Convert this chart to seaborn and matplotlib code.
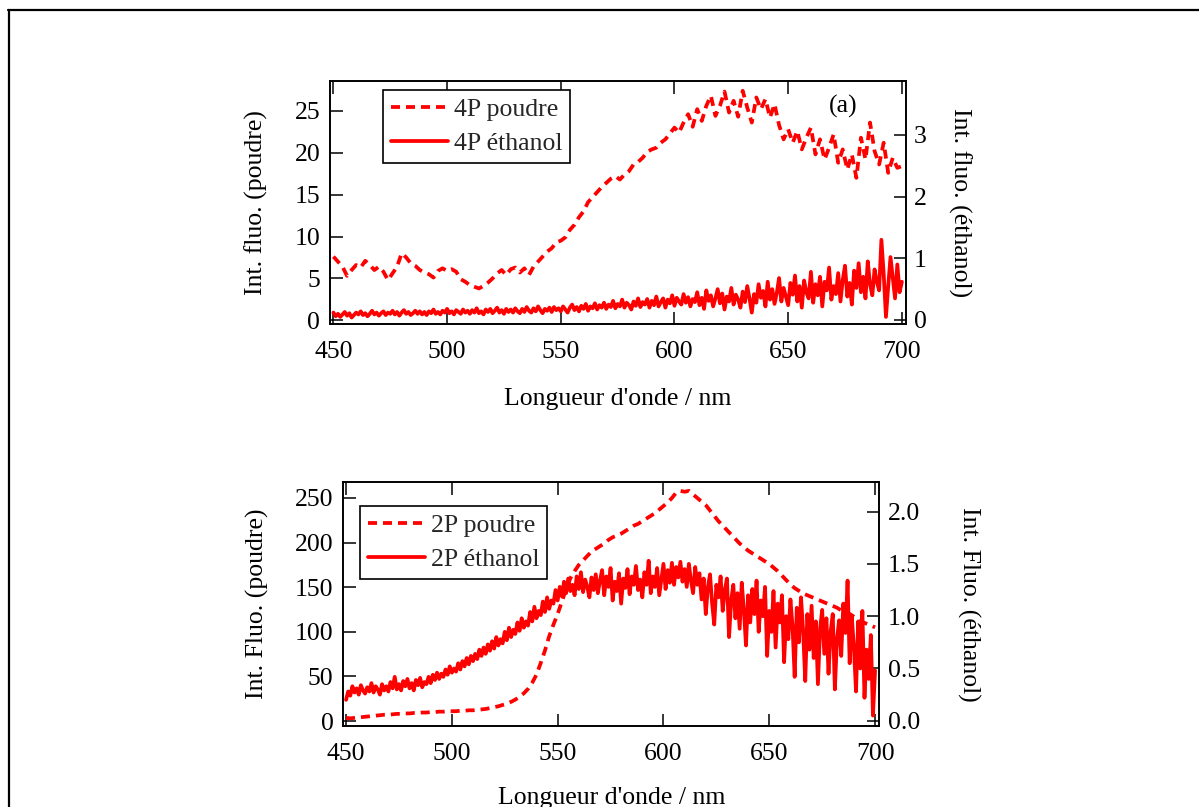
import numpy as np
import matplotlib
matplotlib.use("Agg")
import matplotlib.pyplot as plt
from matplotlib.lines import Line2D
import seaborn as sns

# Wavelength grids (nm)
wl_coarse = np.arange(450, 701, 2)   # 2 nm sampling
wl_fine = np.arange(450, 701, 1)     # 1 nm sampling

# (a) four-photon emission, powder (left axis)
p4_poudre = [
    7.6, 7.0, 6.4, 5.3, 6.0, 6.6, 6.3, 7.1, 6.6, 6.0,
    6.4, 5.8, 4.8, 5.6, 6.4, 8.0, 7.5, 6.8, 6.5, 6.0,
    5.7, 5.5, 5.1, 5.9, 6.2, 5.9, 6.1, 5.8, 4.9, 4.6,
    4.2, 4.0, 3.8, 4.1, 4.5, 5.0, 5.6, 6.0, 5.4, 6.1,
    6.3, 5.7, 6.2, 5.4, 6.4, 7.0, 7.6, 8.2, 8.6, 9.3,
    9.5, 9.9, 10.8, 11.4, 12.3, 13.0, 14.1, 14.7, 15.3, 15.9,
    16.4, 16.9, 17.2, 16.8, 17.4, 17.8, 18.6, 18.9, 19.4, 20.1,
    20.4, 20.6, 21.2, 21.6, 22.3, 23.0, 22.4, 23.6, 24.6, 23.1,
    25.2, 23.8, 25.6, 26.8, 24.4, 25.6, 27.3, 24.8, 26.2, 24.3,
    27.4, 25.4, 23.6, 26.6, 25.2, 26.4, 24.2, 25.8, 23.3, 21.6,
    22.8, 21.2, 22.6, 20.4, 21.8, 23.0, 19.8, 21.6, 19.2, 20.6,
    22.2, 18.8, 20.4, 18.0, 19.8, 17.0, 21.8, 19.2, 23.6, 20.2,
    18.6, 21.2, 17.6, 19.4, 18.2, 18.4,
]

# (a) four-photon emission, ethanol solution (right axis)
p4_ethanol = [
    0.12, 0.06, 0.10, 0.05, 0.09, 0.13, 0.07, 0.11, 0.04, 0.08,
    0.12, 0.09, 0.14, 0.08, 0.11, 0.06, 0.10, 0.15, 0.09, 0.12,
    0.07, 0.11, 0.14, 0.08, 0.12, 0.10, 0.15, 0.09, 0.13, 0.07,
    0.12, 0.16, 0.10, 0.13, 0.08, 0.11, 0.15, 0.10, 0.14, 0.09,
    0.13, 0.08, 0.14, 0.11, 0.17, 0.10, 0.13, 0.09, 0.15, 0.12,
    0.18, 0.11, 0.14, 0.09, 0.16, 0.13, 0.10, 0.17, 0.12, 0.15,
    0.10, 0.16, 0.12, 0.19, 0.11, 0.14, 0.09, 0.17, 0.13, 0.18,
    0.11, 0.15, 0.20, 0.12, 0.16, 0.10, 0.18, 0.13, 0.17, 0.12,
    0.19, 0.14, 0.11, 0.18, 0.13, 0.21, 0.15, 0.12, 0.19, 0.14,
    0.22, 0.16, 0.11, 0.18, 0.15, 0.20, 0.13, 0.21, 0.16, 0.19,
    0.14, 0.22, 0.17, 0.12, 0.20, 0.25, 0.16, 0.21, 0.14, 0.23,
    0.18, 0.26, 0.15, 0.22, 0.19, 0.27, 0.17, 0.24, 0.20, 0.28,
    0.18, 0.25, 0.21, 0.31, 0.19, 0.26, 0.22, 0.33, 0.20, 0.28,
    0.24, 0.17, 0.30, 0.23, 0.35, 0.21, 0.29, 0.25, 0.34, 0.20,
    0.31, 0.24, 0.38, 0.22, 0.29, 0.35, 0.20, 0.33, 0.27, 0.40,
    0.23, 0.36, 0.30, 0.25, 0.42, 0.28, 0.37, 0.22, 0.34, 0.29,
    0.45, 0.24, 0.36, 0.18, 0.48, 0.31, 0.40, 0.22, 0.35, 0.50,
    0.27, 0.43, 0.17, 0.38, 0.30, 0.52, 0.25, 0.41, 0.33, 0.20,
    0.46, 0.29, 0.55, 0.35, 0.12, 0.42, 0.28, 0.58, 0.36, 0.47,
    0.22, 0.62, 0.33, 0.50, 0.26, 0.44, 0.68, 0.30, 0.52, 0.38,
    0.24, 0.60, 0.41, 0.72, 0.30, 0.55, 0.20, 0.64, 0.45, 0.35,
    0.78, 0.28, 0.58, 0.40, 0.70, 0.22, 0.62, 0.48, 0.85, 0.33,
    0.55, 0.42, 0.76, 0.30, 0.65, 0.88, 0.38, 0.60, 0.25, 0.80,
    0.52, 0.92, 0.45, 0.70, 0.35, 0.95, 0.58, 0.40, 0.82, 0.62,
    0.48, 1.30, 0.75, 0.05, 0.55, 1.02, 0.68, 0.35, 0.90, 0.45,
    0.62,
]

# Two-photon emission, powder (left axis)
p2_poudre = [
    3.5, 3.0, 3.5, 4.0, 4.5, 5.0, 5.5, 6.0, 6.5, 7.0,
    7.0, 7.5, 8.0, 8.0, 8.5, 8.5, 9.0, 9.0, 9.5, 9.5,
    10.0, 10.0, 10.5, 10.5, 11.0, 11.0, 11.0, 11.5, 11.5, 12.0,
    12.0, 12.5, 13.0, 13.5, 14.5, 15.5, 16.5, 18.0, 19.5, 21.5,
    24.0, 27.0, 31.0, 36.0, 43.0, 52.0, 65.0, 79.0, 95.0, 108.0,
    120.0, 134.0, 148.0, 160.0, 168.0, 175.0, 180.0, 185.0, 190.0, 193.0,
    196.0, 199.0, 203.0, 206.0, 208.0, 210.0, 213.0, 216.0, 219.0, 221.0,
    224.0, 227.0, 230.0, 233.0, 237.0, 241.0, 245.0, 250.0, 256.0, 258.0,
    257.0, 258.0, 254.0, 250.0, 246.0, 242.0, 236.0, 230.0, 224.0, 219.0,
    214.0, 209.0, 204.0, 199.0, 195.0, 191.0, 188.0, 185.0, 182.0, 179.0,
    176.0, 172.0, 168.0, 163.0, 158.0, 153.0, 149.0, 146.0, 143.0, 141.0,
    139.0, 137.0, 135.0, 133.0, 131.0, 129.0, 127.0, 124.0, 122.0, 120.0,
    117.0, 114.0, 111.0, 109.0, 107.0, 105.0,
]

# Two-photon emission, ethanol solution (right axis)
p2_ethanol = [
    0.20, 0.28, 0.24, 0.33, 0.27, 0.31, 0.25, 0.34, 0.29, 0.26,
    0.32, 0.28, 0.36, 0.27, 0.33, 0.30, 0.25, 0.35, 0.29, 0.33,
    0.28, 0.37, 0.31, 0.42, 0.30, 0.35, 0.29, 0.38, 0.33, 0.40,
    0.31, 0.36, 0.29, 0.39, 0.34, 0.41, 0.32, 0.37, 0.35, 0.42,
    0.36, 0.44, 0.39, 0.46, 0.40, 0.45, 0.42, 0.49, 0.44, 0.52,
    0.46, 0.50, 0.47, 0.55, 0.49, 0.57, 0.52, 0.60, 0.54, 0.62,
    0.57, 0.64, 0.59, 0.68, 0.62, 0.70, 0.64, 0.73, 0.67, 0.76,
    0.69, 0.80, 0.72, 0.78, 0.74, 0.85, 0.77, 0.89, 0.80, 0.87,
    0.83, 0.94, 0.86, 0.98, 0.89, 0.95, 0.91, 1.04, 0.95, 1.09,
    0.98, 1.05, 1.01, 1.14, 1.04, 1.18, 1.07, 1.15, 1.12, 1.25,
    1.15, 1.28, 1.19, 1.33, 1.22, 1.36, 1.24, 1.30, 1.20, 1.38,
    1.26, 1.42, 1.23, 1.35, 1.28, 1.18, 1.37, 1.25, 1.40, 1.22,
    1.34, 1.44, 1.20, 1.38, 1.28, 1.46, 1.15, 1.33, 1.24, 1.41,
    1.12, 1.36, 1.27, 1.45, 1.21, 1.38, 1.30, 1.48, 1.25, 1.35,
    1.18, 1.42, 1.30, 1.53, 1.22, 1.38, 1.28, 1.46, 1.20, 1.35,
    1.50, 1.26, 1.44, 1.32, 1.51, 1.30, 1.47, 1.37, 1.52, 1.33,
    1.45, 1.28, 1.50, 1.34, 1.22, 1.47, 1.30, 1.41, 1.16, 1.36,
    1.02, 1.28, 1.40, 1.12, 0.92, 1.30, 1.18, 1.38, 1.05, 1.25,
    1.36, 0.80, 1.15, 1.30, 0.98, 1.22, 0.88, 1.32, 1.06, 0.72,
    1.20, 0.94, 1.26, 1.02, 1.34, 0.85, 1.15, 1.00, 1.28, 0.62,
    1.05, 0.85, 1.24, 0.70, 1.12, 0.94, 1.20, 0.56, 1.00, 0.78,
    1.16, 0.90, 0.42, 1.08, 0.75, 1.18, 0.86, 0.38, 1.02, 0.68,
    1.10, 0.60, 0.95, 0.35, 0.88, 1.06, 0.64, 0.98, 0.45, 0.85,
    1.02, 0.30, 0.78, 0.96, 0.62, 1.12, 0.84, 1.34, 0.55, 1.00,
    0.70, 0.28, 0.95, 0.50, 1.05, 0.22, 0.68, 0.40, 0.82, 0.05,
    0.48,
]

x_ticks = [450, 500, 550, 600, 650, 700]
x_label = "Longueur d'onde / nm"

sns.set_style("white")
plt.rcParams["font.family"] = ["Liberation Serif", "DejaVu Serif"]
plt.rcParams["axes.linewidth"] = 1.2

FS = 18.5
RED = "#ff0000"
DASH = (0, (2.4, 1.6))
LW = 2.7

fig = plt.figure(figsize=(11.99, 8.07), dpi=100)

# page frame
fig.add_artist(Line2D([8 / 1199, 1.0], [1 - 9.5 / 807, 1 - 9.5 / 807],
                      transform=fig.transFigure, color="black", lw=1.6))
fig.add_artist(Line2D([8.5 / 1199, 8.5 / 1199], [0.0, 1 - 9.5 / 807],
                      transform=fig.transFigure, color="black", lw=1.6))


def style_axes(ax, ax2):
    for a in (ax, ax2):
        for s in a.spines.values():
            s.set_color("black")
            s.set_linewidth(1.2)
        a.grid(False)
    ax.tick_params(axis="x", which="both", direction="in", top=True, bottom=True,
                   length=9, width=1.1, labelsize=FS, pad=12, colors="black")
    ax.tick_params(axis="y", direction="in", left=True, right=False,
                   length=9, width=1.1, labelsize=FS, pad=7, colors="black")
    ax2.tick_params(axis="y", direction="in", right=True, left=False,
                    length=9, width=1.1, labelsize=FS, pad=6, colors="black")


def draw_panel(rect, xlim, y_left, y_right, lim_left, lim_right,
               lab_left, lab_right, leg_labels, leg_anchor,
               yticks_left, yticks_right, yfmt_right, pad_right, pad_x):
    ax = fig.add_axes(rect)
    ax2 = ax.twinx()
    ax.patch.set_alpha(0)
    sns.lineplot(x=y_left[0], y=y_left[1], ax=ax, color=RED, linewidth=LW,
                 linestyle=DASH, label=leg_labels[0])
    sns.lineplot(x=y_right[0], y=y_right[1], ax=ax2, color=RED, linewidth=LW,
                 linestyle="-", label=leg_labels[1])
    for a in (ax, ax2):
        if a.get_legend() is not None:
            a.get_legend().remove()
    ax.set_xlim(*xlim)
    ax.set_ylim(*lim_left)
    ax2.set_ylim(*lim_right)
    ax.set_xticks(x_ticks)
    ax.set_yticks(yticks_left)
    ax2.set_yticks(yticks_right)
    ax2.set_yticklabels([yfmt_right.format(v) for v in yticks_right])
    ax.set_xlabel(x_label, fontsize=FS, labelpad=pad_x, color="black")
    ax.set_ylabel(lab_left, fontsize=FS, labelpad=19, color="black")
    ax2.set_ylabel(lab_right, fontsize=FS, labelpad=pad_right, rotation=270,
                   va="bottom", color="black")
    style_axes(ax, ax2)
    h1, l1 = ax.get_legend_handles_labels()
    h2, l2 = ax2.get_legend_handles_labels()
    leg = ax2.legend(h1 + h2, l1 + l2, loc="upper left", bbox_to_anchor=leg_anchor,
                     borderaxespad=0, frameon=True, fancybox=False, framealpha=1,
                     edgecolor="black", fontsize=FS, handlelength=2.25,
                     handletextpad=0.2, borderpad=0.3, labelspacing=0.45)
    leg.get_frame().set_linewidth(1.2)
    return ax, ax2


# (a) upper panel
axA, axA2 = draw_panel(
    [330 / 1199, 1 - 324.3 / 807, 575.5 / 1199, 243.6 / 807],
    (448.5, 701.6),
    (wl_coarse, p4_poudre), (wl_fine, p4_ethanol),
    (-0.48, 28.6), (-0.07, 3.88),
    "Int. fluo. (poudre)", "Int. fluo. (éthanol)",
    ("4P poudre", "4P éthanol"), (0.092, 0.962),
    [0, 5, 10, 15, 20, 25], [0, 1, 2, 3], "{:.0f}", 15, 18,
)
axA2.text(0.891, 0.896, "(a)", transform=axA2.transAxes, fontsize=FS,
          ha="center", va="center", color="black")

# lower panel
axB, axB2 = draw_panel(
    [343.3 / 1199, 1 - 726 / 807, 536 / 1199, 243.7 / 807],
    (448.7, 702.0),
    (wl_coarse, p2_poudre), (wl_fine, p2_ethanol),
    (-5.6, 267.6), (-0.05, 2.28),
    "Int. Fluo. (poudre)", "Int. Fluo. (éthanol)",
    ("2P poudre", "2P éthanol"), (0.031, 0.903),
    [0, 50, 100, 150, 200, 250], [0.0, 0.5, 1.0, 1.5, 2.0], "{:.1f}", 27, 16,
)

fig.savefig("out.png", dpi=100)
